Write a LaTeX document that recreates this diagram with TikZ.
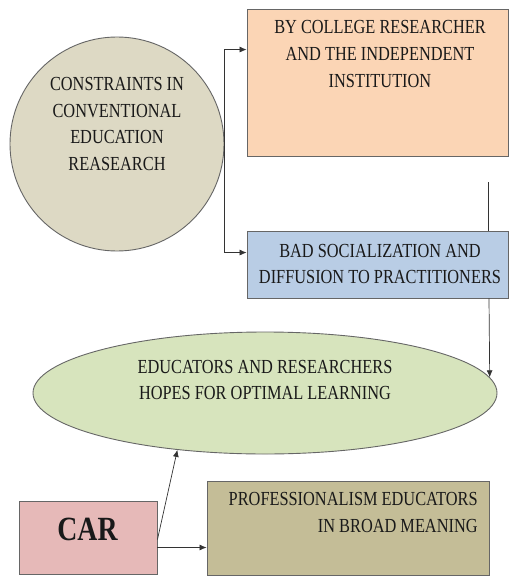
\documentclass[tikz,border=0pt]{standalone}
\usepackage{fontspec}
\setmainfont[FakeStretch=0.82]{Liberation Serif}
\usetikzlibrary{positioning}
\usetikzlibrary{shapes.geometric}
\usetikzlibrary{arrows.meta}

\definecolor{consfill}{HTML}{DDD9C4}
\definecolor{orangefill}{HTML}{FBD5B5}
\definecolor{bluefill}{HTML}{B9CDE5}
\definecolor{edufill}{HTML}{D7E4BD}
\definecolor{carfill}{HTML}{E6B9B8}
\definecolor{profill}{HTML}{C4BD97}

\begin{document}
\begin{tikzpicture}
		[x=1bp, y=-1bp, >={Latex[length=7bp,width=6bp]}, line width=0.7bp, draw=black!80,
		shape box/.style={draw=black!60, line width=0.9bp, inner sep=0pt},
		lbl/.style={align=center, inner sep=0pt, text=black!90,
			font=\fontsize{20}{27}\selectfont}]
		\useasboundingbox (0,0) rectangle (509,576);
		% shapes
		\node[shape box, circle, fill=consfill, minimum size=214bp] (cons) at (117,144) {};
		\node[shape box, rectangle, fill=orangefill, minimum width=261bp, minimum height=147bp] (orange) at (377.5,82.5) {};
		\node[shape box, rectangle, fill=bluefill, minimum width=261bp, minimum height=67bp] (blue) at (377.5,264.5) {};
		\node[shape box, ellipse, fill=edufill, minimum width=464bp, minimum height=122bp] (edu) at (265,393) {};
		\node[shape box, rectangle, fill=carfill, minimum width=138bp, minimum height=73bp] (car) at (88,537.5) {};
		\node[shape box, rectangle, fill=profill, minimum width=282bp, minimum height=94bp] (pro) at (348,528) {};
		% texts
		\node[lbl] (consT) at (117,124) {CONSTRAINTS IN\\CONVENTIONAL\\EDUCATION\\REASEARCH};
		\node[lbl] (orangeT) at (380,54) {BY COLLEGE RESEARCHER\\AND THE INDEPENDENT\\INSTITUTION};
		\node[lbl] (blueT) at (380,264) {BAD SOCIALIZATION AND\\DIFFUSION TO PRACTITIONERS};
		\node[lbl] (eduT) at (265,380) {EDUCATORS AND RESEARCHERS\\HOPES FOR OPTIMAL LEARNING};
		\node[lbl, font=\fontsize{34}{40}\selectfont\bfseries] (carT) at (87.5,529) {CAR};
		\node[lbl, align=right, anchor=east] (proT) at (478,512.5) {PROFESSIONALISM EDUCATORS\\IN BROAD MEANING};
		% connectors
		\draw[->] (cons.east) |- ([yshift=-41bp]orange.north west);
		\draw[->] (cons.east) |- ([yshift=-22bp]blue.north west);
		\coordinate (fall) at (488,182);
		\draw (fall) -- (fall |- blue.north);
		\draw[->] ([xshift=1bp]fall |- blue.south) -- (edu.4);
		\coordinate (carout) at ([yshift=-10bp]car.east);
		\draw[->] (carout) -- (carout -| pro.west);
		\draw[->] ([yshift=-2bp]car.east) -- (edu.213);
	\end{tikzpicture}
\end{document}
